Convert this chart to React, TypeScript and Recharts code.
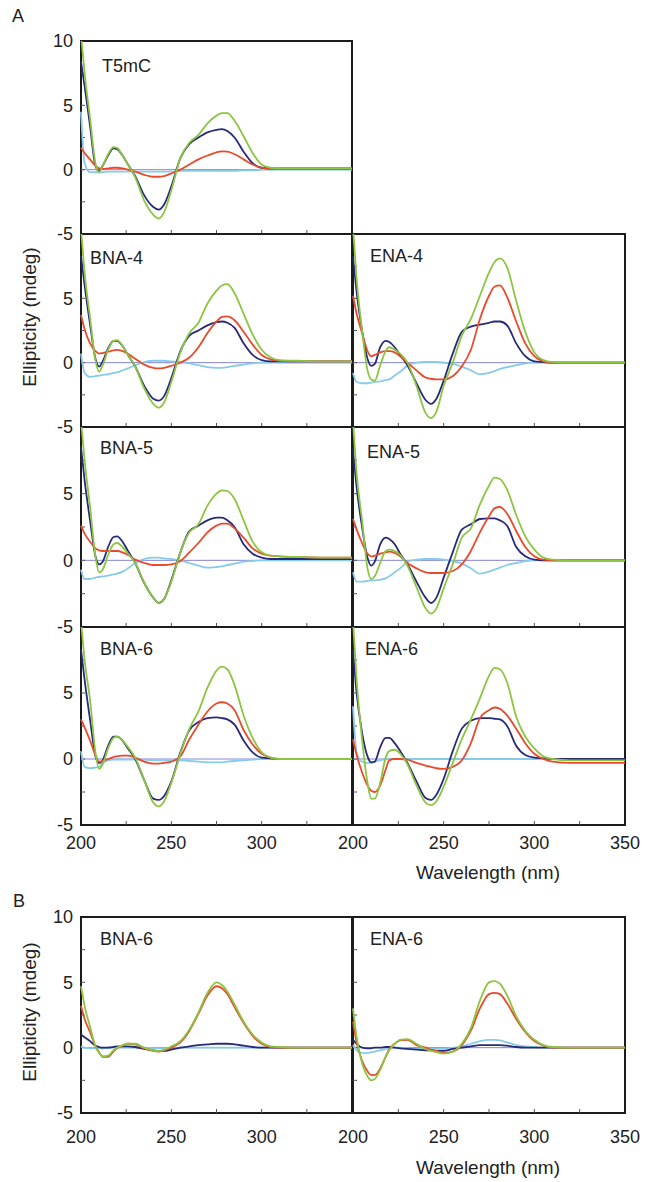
import React from 'react';
import { LineChart, Line, XAxis, YAxis, ReferenceArea, ReferenceLine } from 'recharts';

// wavelength grid (nm)
const WL = [200, 202, 205, 208, 210, 212, 215, 218, 220, 223, 226, 230, 235, 240, 243, 246, 250, 255, 260, 265, 270, 275, 278, 281, 285, 290, 295, 300, 305, 310, 320, 335, 350];

// A: T5mC
const T5MC_GREEN = [10.5, 7.5, 4.0, 0.5, -0.2, 0.3, 1.2, 1.75, 1.7, 1.1, 0.4, -0.6, -2.4, -3.5, -3.8, -3.3, -1.6, 0.9, 2.1, 2.7, 3.6, 4.2, 4.4, 4.4, 3.8, 2.6, 1.3, 0.4, 0.15, 0.1, 0.1, 0.1, 0.1];
const T5MC_NAVY = [8.4, 6.5, 3.4, 0.3, -0.1, 0.3, 1.1, 1.65, 1.6, 1.1, 0.4, -0.5, -2.0, -2.9, -3.1, -2.7, -1.3, 0.9, 2.0, 2.5, 2.9, 3.1, 3.15, 3.0, 2.5, 1.4, 0.5, 0.15, 0.1, 0.1, 0.1, 0.1, 0.1];
const T5MC_RED = [1.7, 1.3, 0.8, 0.3, 0.1, 0.05, 0.1, 0.15, 0.15, 0.1, 0, -0.15, -0.4, -0.55, -0.55, -0.5, -0.3, 0, 0.4, 0.8, 1.1, 1.35, 1.42, 1.4, 1.2, 0.8, 0.4, 0.15, 0.05, 0.05, 0.05, 0.05, 0.05];
const T5MC_CYAN = [4.5, 0.5, -0.2, -0.2, -0.2, -0.2, -0.15, -0.15, -0.15, -0.15, -0.15, -0.15, -0.15, -0.15, -0.15, -0.15, -0.15, -0.1, -0.1, -0.1, -0.1, -0.1, -0.1, -0.1, -0.1, -0.05, -0.05, 0, 0, 0, 0, 0, 0];

// A: BNA-4
const BNA4_GREEN = [10.5, 7, 3.5, 0.2, -0.7, -0.2, 1.0, 1.7, 1.75, 1.3, 0.6, -0.3, -2.0, -3.2, -3.5, -3.1, -1.5, 0.8, 2.3, 3.1, 4.6, 5.6, 6.0, 6.1, 5.4, 3.8, 2.2, 1.0, 0.4, 0.2, 0.15, 0.1, 0.1];
const BNA4_NAVY = [8.3, 6, 3, 0.3, -0.3, 0.1, 1.1, 1.7, 1.7, 1.3, 0.6, -0.3, -1.8, -2.8, -2.95, -2.6, -1.2, 0.9, 2.1, 2.5, 2.9, 3.15, 3.2, 3.1, 2.7, 1.5, 0.6, 0.2, 0.1, 0.1, 0.1, 0.1, 0.1];
const BNA4_RED = [3.7, 2.6, 1.5, 0.9, 0.7, 0.75, 0.85, 0.95, 1.0, 0.9, 0.7, 0.3, -0.15, -0.4, -0.45, -0.4, -0.25, 0, 0.4, 1.2, 2.3, 3.2, 3.55, 3.6, 3.3, 2.4, 1.4, 0.6, 0.25, 0.15, 0.1, 0.1, 0.1];
const BNA4_CYAN = [0.7, -0.8, -1.1, -1.05, -1.0, -0.95, -0.9, -0.8, -0.75, -0.6, -0.45, -0.2, 0.05, 0.15, 0.15, 0.15, 0.1, 0.05, -0.05, -0.2, -0.35, -0.4, -0.4, -0.35, -0.25, -0.15, -0.05, 0, 0, 0, 0, 0, 0];

// A: ENA-4
const ENA4_GREEN = [10.5, 6.5, 2.5, -0.6, -1.3, -1.4, -0.2, 0.9, 1.2, 1.0, 0.7, 0, -1.8, -3.9, -4.3, -3.8, -1.8, 0, 2.1, 3.4, 5.2, 7.0, 7.8, 8.1, 7.4, 4.8, 2.4, 0.8, 0.2, 0.05, 0, 0, 0];
const ENA4_NAVY = [8.3, 5.5, 2.5, 0.3, -0.25, -0.1, 1.2, 1.7, 1.6, 1.2, 0.6, -0.2, -1.6, -2.9, -3.2, -2.8, -1.4, 0.7, 2.4, 2.8, 2.95, 3.1, 3.2, 3.2, 2.9, 1.5, 0.5, 0.1, 0.05, 0, 0, 0, 0];
const ENA4_RED = [5.2, 3.8, 2.3, 0.9, 0.5, 0.6, 0.8, 0.9, 0.9, 0.8, 0.5, 0, -0.6, -1.15, -1.25, -1.3, -1.3, -1.05, -0.3, 1.0, 3.4, 5.2, 5.9, 6.0, 5.1, 3.2, 1.5, 0.5, 0.1, 0, 0, 0, 0];
const ENA4_CYAN = [-0.8, -1.5, -1.6, -1.6, -1.55, -1.5, -1.45, -1.35, -1.3, -1.0, -0.7, -0.25, 0, 0.05, 0.05, 0.05, 0, -0.1, -0.3, -0.6, -0.9, -0.8, -0.65, -0.5, -0.35, -0.2, -0.05, 0, 0, 0, 0, 0, 0];

// A: BNA-5
const BNA5_GREEN = [10.5, 7.5, 4, 0.3, -0.9, -0.7, 0.4, 1.2, 1.3, 1.0, 0.5, -0.2, -1.7, -2.8, -3.2, -2.9, -1.6, 0.6, 2.1, 2.7, 4.1, 5.0, 5.25, 5.2, 4.6, 3.0, 1.4, 0.6, 0.35, 0.3, 0.25, 0.2, 0.2];
const BNA5_NAVY = [8.5, 6, 3, 0.3, -0.3, -0.1, 1.0, 1.75, 1.8, 1.4, 0.7, -0.2, -1.7, -2.8, -3.2, -2.9, -1.5, 0.6, 2.2, 2.6, 3.0, 3.2, 3.2, 3.0, 2.5, 1.2, 0.5, 0.2, 0.1, 0.1, 0.1, 0.1, 0.1];
const BNA5_RED = [2.6, 2.0, 1.4, 0.9, 0.75, 0.7, 0.7, 0.7, 0.7, 0.6, 0.4, 0.05, -0.2, -0.35, -0.35, -0.35, -0.3, -0.05, 0.6, 1.3, 2.1, 2.6, 2.75, 2.75, 2.4, 1.7, 0.9, 0.5, 0.35, 0.3, 0.25, 0.2, 0.2];
const BNA5_CYAN = [-0.7, -1.4, -1.4, -1.3, -1.25, -1.2, -1.15, -1.05, -1.0, -0.85, -0.6, -0.2, 0.1, 0.2, 0.2, 0.15, 0.1, 0, -0.2, -0.4, -0.55, -0.5, -0.45, -0.35, -0.25, -0.1, -0.05, 0, 0, 0, 0, 0, 0];

// A: ENA-5
const ENA5_GREEN = [10.5, 6.5, 3, -0.6, -1.4, -1.2, -0.2, 0.7, 0.8, 0.7, 0.4, -0.4, -2.0, -3.6, -4.0, -3.6, -2.1, -0.3, 1.7, 2.4, 4.2, 5.6, 6.2, 6.1, 5.3, 3.4, 1.8, 0.8, 0.2, 0.05, 0, 0, 0];
const ENA5_NAVY = [8.4, 5.5, 2.5, 0.2, -0.4, -0.1, 1.2, 1.7, 1.6, 1.2, 0.5, -0.3, -1.6, -2.8, -3.2, -2.8, -1.3, 0.6, 2.3, 2.7, 3.1, 3.15, 3.15, 3.0, 2.6, 1.0, 0.3, 0.05, 0, 0, 0, 0, 0];
const ENA5_RED = [3.1, 2.3, 1.3, 0.5, 0.3, 0.35, 0.5, 0.6, 0.65, 0.55, 0.3, -0.2, -0.6, -0.9, -0.95, -0.95, -0.95, -0.8, -0.3, 0.7, 2.1, 3.3, 3.9, 4.0, 3.5, 2.2, 1.0, 0.3, 0.05, 0, 0, 0, 0];
const ENA5_CYAN = [-0.9, -1.6, -1.6, -1.55, -1.5, -1.5, -1.45, -1.35, -1.2, -0.9, -0.6, -0.1, 0.05, 0.1, 0.1, 0.1, 0.05, -0.05, -0.25, -0.6, -1.0, -0.85, -0.7, -0.55, -0.35, -0.2, -0.05, 0, 0, 0, 0, 0, 0];

// A: BNA-6
const BNA6_GREEN = [10.5, 7.5, 4.5, 0.5, -0.75, -0.4, 0.8, 1.6, 1.7, 1.4, 0.9, 0.1, -1.6, -3.3, -3.6, -3.2, -1.8, 0.4, 2.3, 3.6, 5.4, 6.7, 7.0, 6.8, 5.6, 3.3, 1.6, 0.5, 0.1, 0, 0, 0, 0];
const BNA6_NAVY = [8.3, 6, 3, 0.2, -0.3, -0.1, 1.0, 1.7, 1.7, 1.4, 0.8, 0, -1.6, -3.0, -3.1, -2.8, -1.7, 0.5, 2.2, 2.8, 3.1, 3.15, 3.1, 3.0, 2.6, 1.4, 0.5, 0.1, 0.05, 0, 0, 0, 0];
const BNA6_RED = [3.0, 2.4, 1.4, 0.3, -0.2, -0.15, 0, 0.15, 0.2, 0.25, 0.25, 0.1, -0.2, -0.35, -0.35, -0.3, -0.2, 0.2, 1.5, 2.6, 3.6, 4.2, 4.3, 4.2, 3.7, 2.2, 1.1, 0.4, 0.1, 0, 0, 0, 0];
const BNA6_CYAN = [0.6, -0.6, -0.7, -0.65, -0.6, -0.3, -0.1, -0.05, -0.05, -0.05, -0.05, -0.05, -0.05, -0.1, -0.1, -0.1, -0.1, -0.1, -0.15, -0.2, -0.25, -0.25, -0.25, -0.2, -0.15, -0.1, -0.05, 0, 0, 0, 0, 0, 0];

// A: ENA-6
const ENA6_GREEN = [10.5, 6, 1.5, -1.8, -3.0, -3.0, -1.8, 0.1, 0.6, 0.7, 0.4, -0.4, -2.0, -3.3, -3.5, -3.2, -2.1, -0.3, 1.5, 3.0, 4.6, 6.3, 6.9, 6.8, 5.8, 3.2, 1.7, 0.8, 0.2, 0, -0.1, -0.1, -0.1];
const ENA6_NAVY = [8.3, 5, 2, 0.2, -0.25, -0.2, 0.9, 1.6, 1.6, 1.2, 0.6, -0.3, -1.7, -2.95, -3.1, -2.7, -1.5, 0.6, 2.3, 2.9, 3.1, 3.1, 3.05, 3.0, 2.5, 1.0, 0.3, 0.1, 0.05, 0, 0, 0, 0];
const ENA6_RED = [1.5, 0.3, -1.0, -2.0, -2.4, -2.5, -2.0, -0.8, -0.1, 0, 0, -0.05, -0.3, -0.5, -0.6, -0.7, -0.75, -0.6, -0.1, 1.2, 3.1, 3.7, 3.9, 3.8, 3.3, 2.3, 1.2, 0.4, 0, -0.2, -0.3, -0.3, -0.3];
const ENA6_CYAN = [4.0, 0.5, -0.2, -0.3, -0.3, -0.2, -0.1, 0, 0, 0, 0, 0, 0, 0, 0, 0, 0, 0, 0, 0, 0, 0, 0, 0, 0, 0, 0, 0, 0, 0, 0, 0, 0];

// B: BNA-6
const B_BNA6_GREEN = [4.7, 3.2, 1.6, 0.1, -0.4, -0.65, -0.6, -0.2, 0, 0.2, 0.3, 0.3, 0, -0.2, -0.25, -0.15, 0.1, 0.5, 1.4, 2.7, 4.2, 5.0, 4.8, 4.3, 3.3, 2.0, 1.0, 0.4, 0.1, 0.05, 0, 0, 0];
const B_BNA6_NAVY = [1.0, 0.8, 0.5, 0.15, 0.05, 0, 0, 0.05, 0.1, 0.1, 0.1, 0.05, -0.1, -0.2, -0.25, -0.25, -0.15, 0, 0.1, 0.2, 0.25, 0.3, 0.3, 0.3, 0.25, 0.15, 0.05, 0, 0, 0, 0, 0, 0];
const B_BNA6_RED = [3.2, 2.2, 1.2, 0.1, -0.35, -0.7, -0.7, -0.3, -0.05, 0.15, 0.3, 0.25, -0.05, -0.25, -0.3, -0.2, 0, 0.4, 1.3, 2.6, 4.0, 4.7, 4.55, 4.1, 3.1, 1.9, 0.9, 0.3, 0.05, 0, 0, 0, 0];
const B_BNA6_CYAN = [0.1, 0, -0.05, -0.05, -0.05, -0.05, 0, 0, 0, 0, 0, 0, 0, -0.05, -0.05, -0.05, -0.05, 0, 0, 0, 0, 0, 0, 0, 0, 0, 0, 0, 0, 0, 0, 0, 0];

// B: ENA-6
const B_ENA6_GREEN = [3.0, 0.8, -1.2, -2.2, -2.5, -2.4, -1.7, -0.7, -0.2, 0.3, 0.6, 0.65, 0.3, -0.1, -0.25, -0.35, -0.45, -0.3, 0.3, 1.5, 3.6, 5.0, 5.1, 4.9, 4.0, 2.4, 1.3, 0.6, 0.2, 0.05, 0, 0, 0];
const B_ENA6_NAVY = [0.6, 0.3, 0, -0.05, -0.05, 0, 0, 0.05, 0.05, 0, -0.05, -0.1, -0.15, -0.2, -0.2, -0.25, -0.25, -0.1, 0, 0.1, 0.2, 0.2, 0.2, 0.2, 0.15, 0.05, 0, 0, 0, 0, 0, 0, 0];
const B_ENA6_RED = [2.0, 0.4, -1.0, -1.8, -2.1, -2.1, -1.6, -0.7, -0.1, 0.3, 0.55, 0.6, 0.2, 0, -0.15, -0.25, -0.4, -0.3, 0.2, 1.3, 3.0, 4.1, 4.2, 4.1, 3.4, 2.2, 1.2, 0.5, 0.15, 0, 0, 0, 0];
const B_ENA6_CYAN = [0.2, -0.2, -0.4, -0.4, -0.35, -0.3, -0.2, -0.1, 0, 0, 0, -0.05, -0.1, -0.1, -0.1, -0.1, -0.1, 0, 0.1, 0.3, 0.5, 0.6, 0.6, 0.55, 0.4, 0.2, 0.1, 0.05, 0, 0, 0, 0, 0];

const Y_TICKS_TOP = [-5, 0, 5, 10];
const Y_TICKS = [-5, 0, 5];
const X_TICKS_LEFT = [200, 250, 300];
const X_TICKS_RIGHT = [200, 250, 300, 350];
// small inward tick marks on the frame
const X_MARKS = [225, 250, 275, 300, 325];
const Y_MARKS = [-2.5, 0, 2.5, 5, 7.5];

const COLORS = { green: '#8cc540', navy: '#28297a', red: '#ea4a2c', cyan: '#88cbe8', zero: '#8484d4', frame: '#1c1c1c', text: '#222' };
const FONT = '"Liberation Sans", Arial, Helvetica, sans-serif';
const PAD = 24;
const YW = 57;
const XH = 40;

const LX = 81, LW = 271, RX = 353, RW = 272;

interface PanelProps {
  left: number;
  top: number;
  w: number;
  h: number;
  green: number[];
  navy: number[];
  red: number[];
  cyan: number[];
  yTicks?: number[];
  xTicks?: number[];
  xTickMargin?: number;
}

const Panel: React.FC<PanelProps> = ({ left, top, w, h, green, navy, red, cyan, yTicks, xTicks, xTickMargin = 5 }) => {
  const data = WL.map((wl, i) => ({ wl, green: green[i], navy: navy[i], red: red[i], cyan: cyan[i] }));
  const showY = !!yTicks;
  const showX = !!xTicks;
  const ml = PAD + (showY ? YW : 0);
  const width = ml + w + PAD;
  const height = PAD + h + (showX ? XH : 0) + PAD;
  const tick = { fill: COLORS.text, fontSize: 18, fontFamily: FONT };
  // tick mark lengths in data units (about 4 px)
  const dx = (4 * 150) / w;
  const dy = (4 * 15) / h;
  return (
    <div style={{ position: 'absolute', left: left - ml, top: top - PAD }}>
      <LineChart width={width} height={height} data={data} margin={{ top: PAD, right: PAD, bottom: PAD, left: PAD }}>
        <XAxis
          dataKey="wl"
          type="number"
          domain={[200, 350]}
          ticks={xTicks ?? X_TICKS_RIGHT}
          interval={0}
          hide={!showX}
          height={XH}
          tickLine={false}
          axisLine={false}
          tickMargin={xTickMargin}
          tick={tick}
        />
        <YAxis
          type="number"
          domain={[-5, 10]}
          allowDataOverflow
          ticks={yTicks ?? Y_TICKS_TOP}
          interval={0}
          hide={!showY}
          width={YW}
          tickLine={false}
          axisLine={false}
          tick={tick}
        />
        <ReferenceLine y={0} stroke={COLORS.zero} strokeWidth={1} />
        {X_MARKS.map((x) => (
          <ReferenceLine key={`x${x}`} segment={[{ x, y: -5 }, { x, y: -5 + dy }]} stroke="#555" strokeWidth={1} />
        ))}
        {Y_MARKS.map((y) => (
          <ReferenceLine key={`y${y}`} segment={[{ x: 200, y }, { x: 200 + dx, y }]} stroke="#555" strokeWidth={1} />
        ))}
        <Line type="monotone" dataKey="cyan" stroke={COLORS.cyan} strokeWidth={1.8} dot={false} isAnimationActive={false} />
        <Line type="monotone" dataKey="navy" stroke={COLORS.navy} strokeWidth={1.8} dot={false} isAnimationActive={false} />
        <Line type="monotone" dataKey="red" stroke={COLORS.red} strokeWidth={1.8} dot={false} isAnimationActive={false} />
        <Line type="monotone" dataKey="green" stroke={COLORS.green} strokeWidth={1.8} dot={false} isAnimationActive={false} />
        <ReferenceArea x1={200} x2={350} y1={-5} y2={10} fill="none" stroke={COLORS.frame} strokeWidth={2} />
      </LineChart>
    </div>
  );
};

const labelStyle = { fontSize: 18, fontFamily: FONT, fill: COLORS.text } as const;

export default function App() {
  return (
    <div style={{ position: 'absolute', left: 0, top: 0, width: 646, height: 1182, background: '#fff' }}>
      <Panel left={LX} top={41} w={LW} h={193} green={T5MC_GREEN} navy={T5MC_NAVY} red={T5MC_RED} cyan={T5MC_CYAN} yTicks={Y_TICKS_TOP} />
      <Panel left={LX} top={234} w={LW} h={193} green={BNA4_GREEN} navy={BNA4_NAVY} red={BNA4_RED} cyan={BNA4_CYAN} yTicks={Y_TICKS} />
      <Panel left={RX} top={234} w={RW} h={193} green={ENA4_GREEN} navy={ENA4_NAVY} red={ENA4_RED} cyan={ENA4_CYAN} />
      <Panel left={LX} top={427} w={LW} h={200} green={BNA5_GREEN} navy={BNA5_NAVY} red={BNA5_RED} cyan={BNA5_CYAN} yTicks={Y_TICKS} />
      <Panel left={RX} top={427} w={RW} h={200} green={ENA5_GREEN} navy={ENA5_NAVY} red={ENA5_RED} cyan={ENA5_CYAN} />
      <Panel left={LX} top={627} w={LW} h={198} green={BNA6_GREEN} navy={BNA6_NAVY} red={BNA6_RED} cyan={BNA6_CYAN} yTicks={Y_TICKS} xTicks={X_TICKS_LEFT} xTickMargin={5} />
      <Panel left={RX} top={627} w={RW} h={198} green={ENA6_GREEN} navy={ENA6_NAVY} red={ENA6_RED} cyan={ENA6_CYAN} xTicks={X_TICKS_RIGHT} xTickMargin={5} />
      <Panel left={LX} top={917} w={LW} h={196} green={B_BNA6_GREEN} navy={B_BNA6_NAVY} red={B_BNA6_RED} cyan={B_BNA6_CYAN} yTicks={Y_TICKS_TOP} xTicks={X_TICKS_LEFT} xTickMargin={11} />
      <Panel left={RX} top={917} w={RW} h={196} green={B_ENA6_GREEN} navy={B_ENA6_NAVY} red={B_ENA6_RED} cyan={B_ENA6_CYAN} xTicks={X_TICKS_RIGHT} xTickMargin={11} />
      <svg width={646} height={1182} style={{ position: 'absolute', left: 0, top: 0, pointerEvents: 'none' }}>
        <text x={12} y={22} style={labelStyle} fontSize={17}>A</text>
        <text x={13} y={907} style={labelStyle} fontSize={17}>B</text>
        <text x={102} y={72} style={labelStyle}>T5mC</text>
        <text x={90} y={264} style={labelStyle}>BNA-4</text>
        <text x={370} y={262} style={labelStyle}>ENA-4</text>
        <text x={100} y={454} style={labelStyle}>BNA-5</text>
        <text x={367} y={458} style={labelStyle}>ENA-5</text>
        <text x={100} y={655} style={labelStyle}>BNA-6</text>
        <text x={365} y={655} style={labelStyle}>ENA-6</text>
        <text x={100} y={945} style={labelStyle}>BNA-6</text>
        <text x={370} y={945} style={labelStyle}>ENA-6</text>
        <text x={29} y={317} style={{ ...labelStyle, fontSize: 19 }} textAnchor="middle" dominantBaseline="central" transform="rotate(-90 29 317)">Ellipticity (mdeg)</text>
        <text x={29} y={1012} style={{ ...labelStyle, fontSize: 19 }} textAnchor="middle" dominantBaseline="central" transform="rotate(-90 29 1012)">Ellipticity (mdeg)</text>
        <text x={488} y={879} style={{ ...labelStyle, fontSize: 19 }} textAnchor="middle">Wavelength (nm)</text>
        <text x={488} y={1174} style={{ ...labelStyle, fontSize: 19 }} textAnchor="middle">Wavelength (nm)</text>
      </svg>
    </div>
  );
}
